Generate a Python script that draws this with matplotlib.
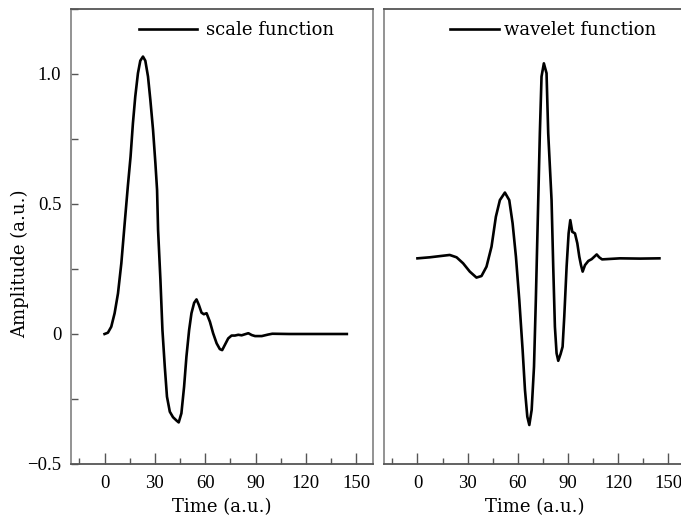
import numpy as np
import matplotlib.pyplot as plt
from matplotlib.ticker import MultipleLocator

plt.rcParams['font.family'] = ['DejaVu Serif']
plt.rcParams['axes.unicode_minus'] = True

# scale function
scale_t = [0, 2, 4, 6, 8, 10, 12, 13.9, 15.5, 16.9, 18.3, 19.9, 21.3, 22.9,
           24.3, 25.9, 27.3, 28.9, 30.3, 31.3, 31.9, 33.3, 34.5, 35.9, 37.2,
           38.9, 40.8, 42.9, 44.2, 45.8, 47.4, 48.8, 50.4, 51.8, 53.4, 54.8,
           56.2, 57.8, 59.2, 60.8, 62.8, 64.7, 66.8, 68.7, 70.1, 71.7, 73.7,
           75.7, 77.7, 79.7, 81.7, 83.7, 85.7, 87.7, 89.7, 93.7, 97.6, 100,
           110, 125, 144.4]
scale_y = [0, 0.005, 0.028, 0.08, 0.156, 0.272, 0.426, 0.57, 0.682, 0.81,
           0.913, 1.003, 1.051, 1.067, 1.051, 0.99, 0.9, 0.785, 0.657, 0.554,
           0.4, 0.208, 0.015, -0.126, -0.241, -0.299, -0.32, -0.333, -0.34,
           -0.305, -0.203, -0.087, 0.015, 0.08, 0.12, 0.133, 0.112, 0.082,
           0.076, 0.08, 0.047, 0.003, -0.036, -0.058, -0.062, -0.042, -0.017,
           -0.006, -0.006, -0.003, -0.005, -0.001, 0.003, -0.004, -0.008,
           -0.008, -0.002, 0.001, 0, 0, 0]

# wavelet function
wave_t = [0, 7.4, 15.3, 19.3, 23.4, 27.3, 31.3, 35.3, 38.3, 41.3, 44.3, 46.9,
          49.3, 52.3, 54.9, 56.9, 58.9, 60.9, 62.9, 64.3, 65.7, 66.9, 68.3,
          69.7, 70.8, 72, 73.2, 74.2, 75.6, 77.2, 78.2, 80.2, 81.2, 82.2, 83.2,
          84.2, 85.6, 86.8, 87.8, 89.2, 90.4, 91.4, 92.6, 94.2, 95.6, 96.8,
          97.8, 98.8, 100.2, 102.2, 104.2, 105.7, 107.2, 108.7, 110.4, 113.2,
          121.1, 133.1, 144.7]
wave_y = [0.291, 0.295, 0.301, 0.304, 0.295, 0.272, 0.24, 0.217, 0.223, 0.259,
          0.336, 0.451, 0.515, 0.544, 0.515, 0.426, 0.297, 0.131, -0.062,
          -0.215, -0.318, -0.35, -0.292, -0.126, 0.131, 0.451, 0.772, 0.99,
          1.041, 1.003, 0.772, 0.515, 0.259, 0.028, -0.074, -0.103, -0.077,
          -0.049, 0.067, 0.259, 0.387, 0.438, 0.393, 0.387, 0.349, 0.297,
          0.265, 0.24, 0.265, 0.281, 0.288, 0.297, 0.306, 0.295, 0.287, 0.288,
          0.291, 0.29, 0.291]

xticks = [0, 30, 60, 90, 120, 150]
yticks = [-0.5, 0, 0.5, 1.0]
yticklabels = ['\u22120.5', '0', '0.5', '1.0']

tick_font = dict(family='Liberation Serif', size=13.5)

fig = plt.figure(figsize=(6.81, 5.24), dpi=100)
ax1 = fig.add_axes([71/681, 60/524, 302/681, 455/524])
ax2 = fig.add_axes([384/681, 60/524, 301/681, 455/524])

panels = [(ax1, scale_t, scale_y, 'scale function', 0.225, 3.2, 0.5),
          (ax2, wave_t, wave_y, 'wavelet function', 0.219, 2.7, 0.3)]
for ax, t, y, lab, lx, hl, htp in panels:
    ax.plot(t, y, color='k', lw=1.9, label=lab, solid_joinstyle='round')
    ax.set_xlim(-20, 160)
    ax.set_ylim(-0.5, 1.25)
    ax.set_xticks(xticks)
    ax.set_xticklabels([str(v) for v in xticks], fontdict=tick_font)
    ax.xaxis.set_minor_locator(MultipleLocator(15))
    ax.tick_params(axis='x', which='major', direction='in', length=8, width=1,
                   color='#555', pad=8)
    ax.tick_params(axis='x', which='minor', direction='in', length=4, width=1,
                   color='#555')
    ax.set_xlabel('Time (a.u.)', fontsize=13, labelpad=4)
    for s in ax.spines.values():
        s.set_color('#8a8a8a')
        s.set_linewidth(1.3)
    ax.spines['top'].set_color('#555')
    ax.spines['bottom'].set_color('#555')
    ax.legend(loc='center left', bbox_to_anchor=(lx, 0.954), frameon=False,
              fontsize=13, handlelength=hl, handletextpad=htp,
              borderpad=0, borderaxespad=0)

ax1.set_yticks(yticks)
ax1.set_yticklabels(yticklabels, fontdict=tick_font)
ax1.yaxis.set_minor_locator(MultipleLocator(0.25))
ax1.tick_params(axis='y', which='both', direction='in', length=5, width=1,
                color='#555', pad=7)
ax1.set_ylabel('Amplitude (a.u.)', fontsize=13)
ax1.yaxis.set_label_coords(-0.139, 0.44)

ax2.set_yticks([])
ax2.tick_params(axis='y', which='both', left=False, labelleft=False)

fig.savefig('out.png', dpi=100)
